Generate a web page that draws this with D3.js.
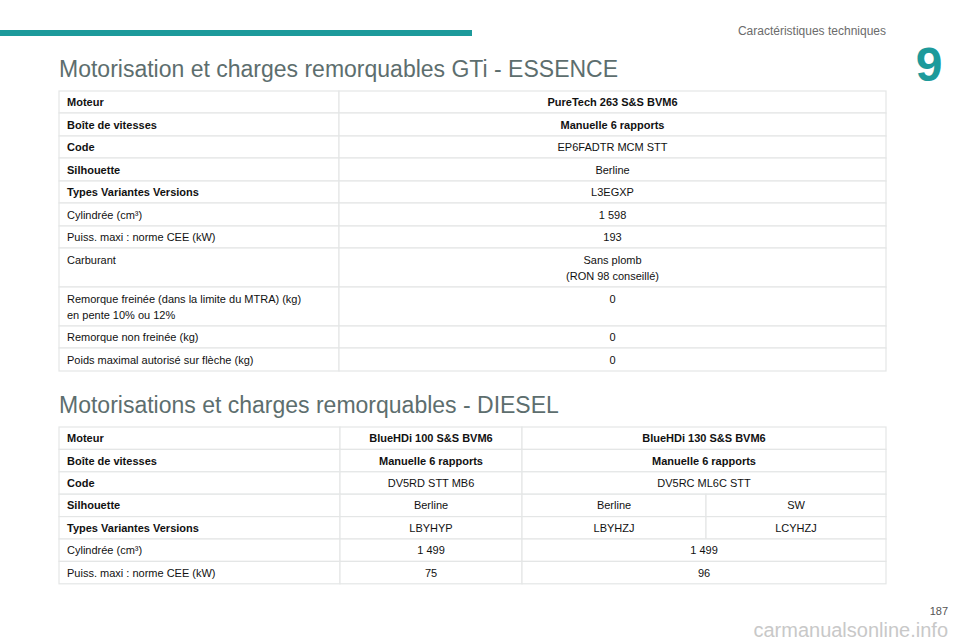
<!DOCTYPE html>
<html><head><meta charset="utf-8">
<script src="https://cdn.jsdelivr.net/npm/d3@7"></script>
<style>body{margin:0;background:#fff}</style></head>
<body><svg id="c" width="960" height="640"></svg>
<script>
const sectionTitles=["Motorisation et charges remorquables GTi - ESSENCE","Motorisations et charges remorquables - DIESEL"];
const rowLabels1=["Moteur","Boîte de vitesses","Code","Silhouette","Types Variantes Versions","Cylindrée (cm³)","Puiss. maxi : norme CEE (kW)","Carburant","Remorque freinée (dans la limite du MTRA) (kg)\nen pente 10% ou 12%","Remorque non freinée (kg)","Poids maximal autorisé sur flèche (kg)"];
const values1=["PureTech 263 S&S BVM6","Manuelle 6 rapports","EP6FADTR MCM STT","Berline","L3EGXP","1 598","193","Sans plomb\n(RON 98 conseillé)","0","0","0"];
const rowLabels2=["Moteur","Boîte de vitesses","Code","Silhouette","Types Variantes Versions","Cylindrée (cm³)","Puiss. maxi : norme CEE (kW)"];
const values2=[["BlueHDi 100 S&S BVM6",["BlueHDi 130 S&S BVM6"]],["Manuelle 6 rapports",["Manuelle 6 rapports"]],["DV5RD STT MB6",["DV5RC ML6C STT"]],["Berline",["Berline","SW"]],["LBYHYP",["LBYHZJ","LCYHZJ"]],["1 499",["1 499"]],["75",["96"]]];
const boldRows=5;
const svg=d3.select("#c");
const F="Liberation Sans, Arial, sans-serif";
svg.append("rect").attr("x",0).attr("y",30).attr("width",472).attr("height",6).attr("fill","#1d9a9b");
svg.append("text").attr("x",886).attr("y",35).attr("text-anchor","end").attr("font-family",F).attr("font-size",12).attr("fill","#6b6b6b").text("Caractéristiques techniques");
svg.append("text").attr("x",929).attr("y",81).attr("text-anchor","middle").attr("font-family",F).attr("font-weight","bold").attr("font-size",48).attr("fill","#1d9a9b").text("9");
svg.selectAll("text.title").data(sectionTitles).join("text").attr("x",59).attr("y",(d,i)=>[77,413][i]).attr("font-family",F).attr("font-size",23).attr("fill","#5d6e6e").text(d=>d);

function cell(x0,x1,y0,y1,txt,bold,left){
  svg.append("rect").attr("x",x0).attr("y",y0).attr("width",x1-x0).attr("height",y1-y0).attr("fill","#fff").attr("stroke","#e4e6e6").attr("stroke-width",1.2);
  const lines=txt.split("\n");
  const tall=(y1-y0)>30;
  lines.forEach((l,k)=>{
    svg.append("text").attr("x",left?x0+8:(x0+x1)/2).attr("y",tall?y0+16+k*16:(y0+y1)/2+4).attr("text-anchor",left?"start":"middle")
      .attr("font-family",F).attr("font-size",11).attr("font-weight",bold?"bold":"normal").attr("fill","#111").text(l);
  });
}
const ys1=[91,113,136,158,181,203,226,248,287,326,348,371];
rowLabels1.forEach((lab,i)=>{
  cell(59,339,ys1[i],ys1[i+1],lab,i<boldRows,true);
  cell(339,886,ys1[i],ys1[i+1],values1[i],i<2,false);
});
const ys2=d3.range(8).map(i=>427+i*22.4);
const xs2=[59,340,522,706,886];
rowLabels2.forEach((lab,i)=>{
  const b=i<boldRows, vb=i<2;
  cell(xs2[0],xs2[1],ys2[i],ys2[i+1],lab,b,true);
  cell(xs2[1],xs2[2],ys2[i],ys2[i+1],values2[i][0],vb,false);
  const v=values2[i][1];
  if(v.length===1) cell(xs2[2],xs2[4],ys2[i],ys2[i+1],v[0],vb,false);
  else {cell(xs2[2],xs2[3],ys2[i],ys2[i+1],v[0],vb,false);cell(xs2[3],xs2[4],ys2[i],ys2[i+1],v[1],vb,false);}
});
svg.append("text").attr("x",948).attr("y",615).attr("text-anchor","end").attr("font-family",F).attr("font-size",11).attr("fill","#555").text("187");
svg.append("text").attr("x",948).attr("y",637).attr("text-anchor","end").attr("font-family",F).attr("font-size",20).attr("fill","#bbb").attr("opacity",0.8).text("carmanualsonline.info");
</script></body></html>
